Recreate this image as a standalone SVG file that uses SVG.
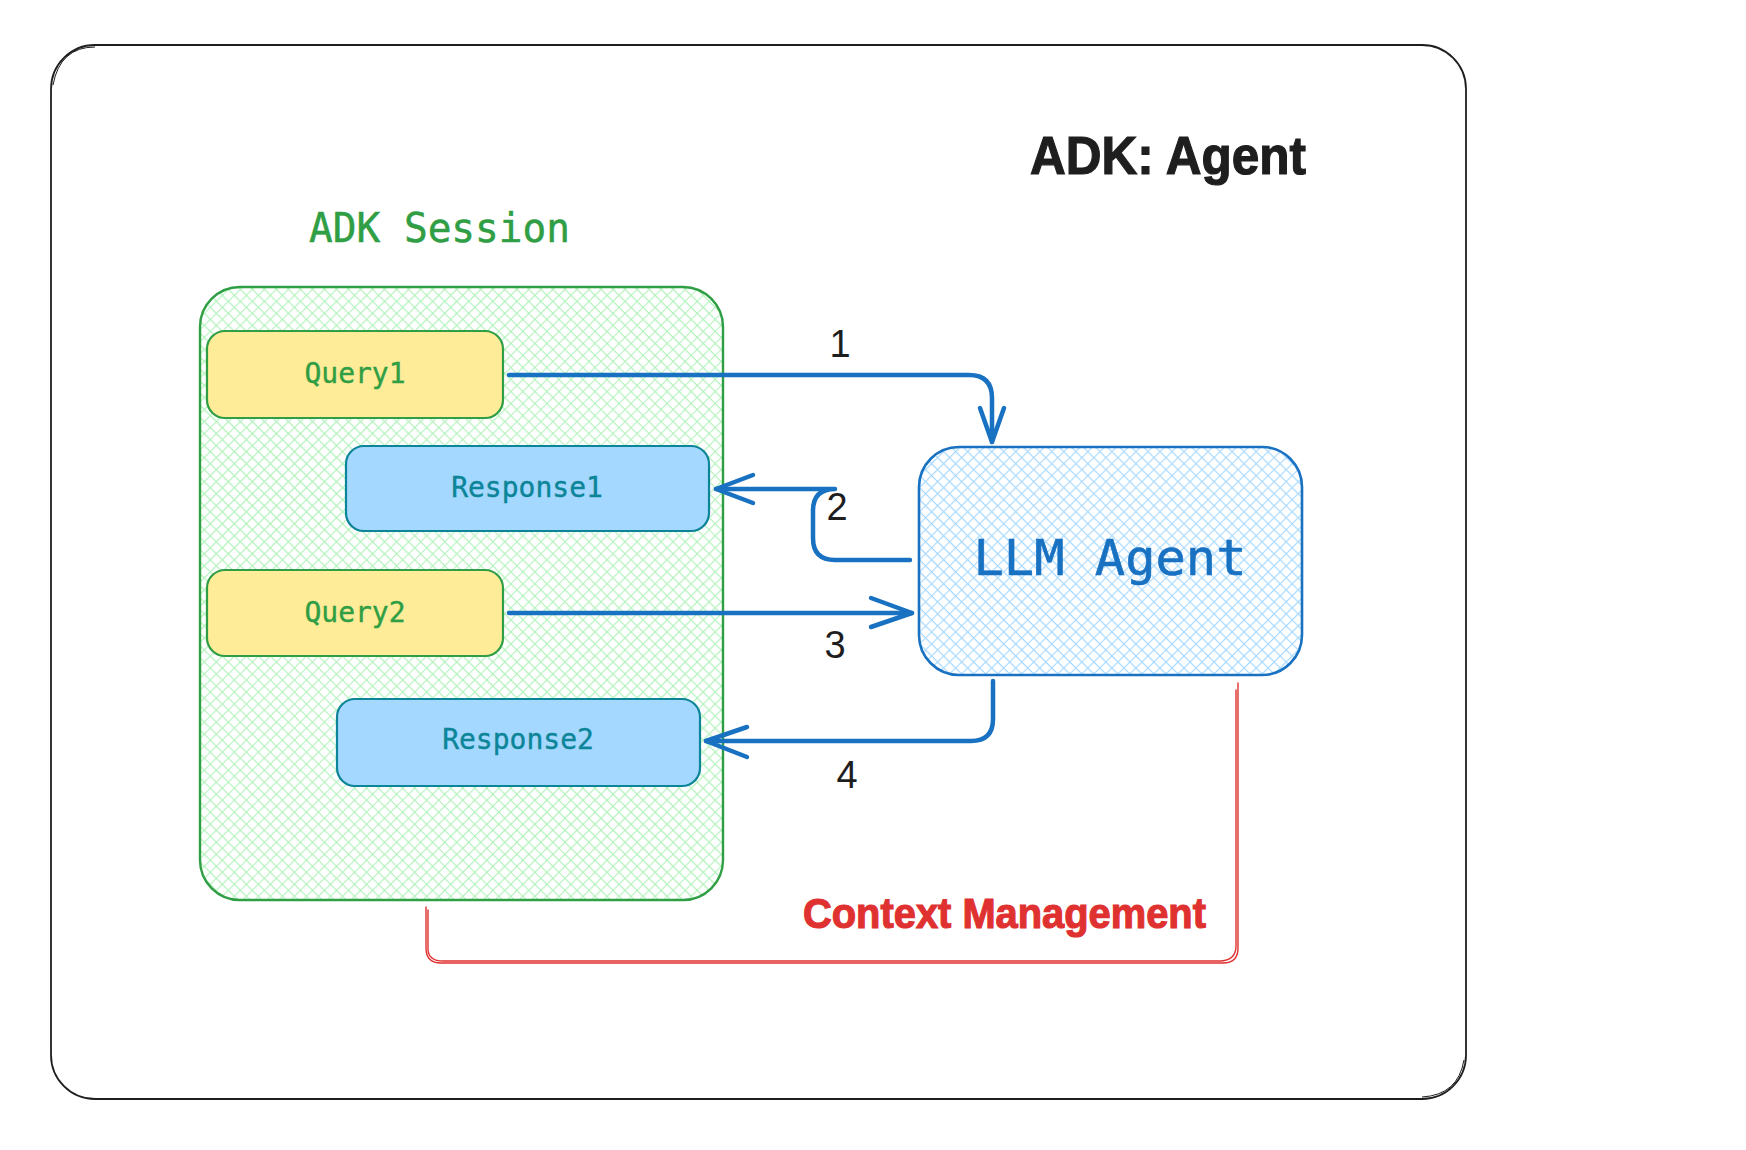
<svg xmlns="http://www.w3.org/2000/svg" width="1746" height="1150" viewBox="0 0 1746 1150">
<defs>
<pattern id="hatchGreen" patternUnits="userSpaceOnUse" width="8.5" height="8.5" patternTransform="rotate(45)">
<path d="M0 0H8.5M0 0V8.5" stroke="#b2f2bb" stroke-width="2.2" fill="none"/>
</pattern>
<pattern id="hatchBlue" patternUnits="userSpaceOnUse" width="8.5" height="8.5" patternTransform="rotate(45)">
<path d="M0 0H8.5M0 0V8.5" stroke="#a5d8ff" stroke-width="2.2" fill="none"/>
</pattern>
<style>
.mono{font-family:"DejaVu Sans Mono","Liberation Mono",monospace;}
.bold{font-family:"Liberation Sans","DejaVu Sans",sans-serif;font-weight:bold;stroke-width:1.2;}
.num{font-family:"Liberation Sans","DejaVu Sans",sans-serif;font-size:38px;fill:#1e1e1e;text-anchor:middle;}
.query{fill:#ffec99;stroke:#2f9e44;stroke-width:2.2;}
.resp{fill:#a5d8ff;stroke:#0c8599;stroke-width:2.2;}
.qtext{font-size:28px;fill:#2f9e44;text-anchor:middle;stroke:#2f9e44;stroke-width:0.4;}
.rtext{font-size:28px;fill:#0c8599;text-anchor:middle;stroke:#0c8599;stroke-width:0.4;}
.arrow{fill:none;stroke:#1971c2;stroke-width:4.5;stroke-linecap:round;stroke-linejoin:round;}
.bracket{fill:none;stroke:#e03131;stroke-width:1.4;stroke-linecap:round;}
</style>
</defs>
<rect width="1746" height="1150" fill="#ffffff"/>

<g id="frame">
<rect x="51" y="45" width="1415" height="1054" rx="44" ry="44" fill="none" stroke="#1e1e1e" stroke-width="1.8"/>
<path d="M95 47 Q60 47 53 85" fill="none" stroke="#1e1e1e" stroke-width="1"/>
<path d="M1422 1097 Q1458 1095 1464 1060" fill="none" stroke="#1e1e1e" stroke-width="1"/>
<text class="bold" x="1030" y="174" font-size="54" fill="#1e1e1e" stroke="#1e1e1e" textLength="276" lengthAdjust="spacingAndGlyphs">ADK: Agent</text>
</g>

<g id="session">
<text class="mono" x="309" y="242" font-size="40" fill="#2f9e44" stroke="#2f9e44" stroke-width="0.5" textLength="261" lengthAdjust="spacingAndGlyphs">ADK Session</text>
<rect x="200" y="287" width="523" height="613" rx="40" ry="40" fill="url(#hatchGreen)" stroke="#2f9e44" stroke-width="2.4"/>
</g>

<g id="query1">
<rect class="query" x="207" y="331" width="296" height="87" rx="18"/>
<text class="mono qtext" x="355" y="383">Query1</text>
</g>
<g id="response1">
<rect class="resp" x="346" y="446" width="363" height="85" rx="18"/>
<text class="mono rtext" x="527" y="497">Response1</text>
</g>
<g id="query2">
<rect class="query" x="207" y="570" width="296" height="86" rx="18"/>
<text class="mono qtext" x="355" y="622">Query2</text>
</g>
<g id="response2">
<rect class="resp" x="337" y="699" width="363" height="87" rx="18"/>
<text class="mono rtext" x="518" y="749">Response2</text>
</g>

<g id="llm-agent">
<rect x="919" y="447" width="383" height="228" rx="40" ry="40" fill="url(#hatchBlue)" stroke="#1971c2" stroke-width="2.6"/>
<text class="mono" x="1110" y="575" font-size="50" fill="#1971c2" stroke="#1971c2" stroke-width="0.6" text-anchor="middle" textLength="273" lengthAdjust="spacingAndGlyphs">LLM Agent</text>
</g>

<g id="context-management">
<path class="bracket" d="M426 907 V948 Q426 963 441 963 H1223 Q1238 963 1238 948 V683"/>
<path class="bracket" d="M428 910 V950 Q429 961 443 961 H1221 Q1236 960 1236 946 V690" stroke-width="1"/>
<text class="bold" x="803" y="928" font-size="43" fill="#e03131" stroke="#e03131" textLength="403" lengthAdjust="spacingAndGlyphs">Context Management</text>
</g>

<g id="connectors">
<path class="arrow" d="M509 375 H969 Q992 375 992 398 V442"/>
<path class="arrow" d="M980 408 L992 442 L1004 408"/>
<text class="num" x="840" y="357">1</text>

<path class="arrow" d="M910 560 H835 Q813 560 813 538 V511 Q813 489 835 489 H716"/>
<path class="arrow" d="M753 475 L716 489 L753 503"/>
<text class="num" x="837" y="520">2</text>

<path class="arrow" d="M509 613 H912"/>
<path class="arrow" d="M871 598 L912 613 L871 627"/>
<text class="num" x="835" y="658">3</text>

<path class="arrow" d="M993 681 V719 Q993 741 971 741 H706"/>
<path class="arrow" d="M747 727 L706 741 L747 757"/>
<text class="num" x="847" y="788">4</text>
</g>
</svg>
